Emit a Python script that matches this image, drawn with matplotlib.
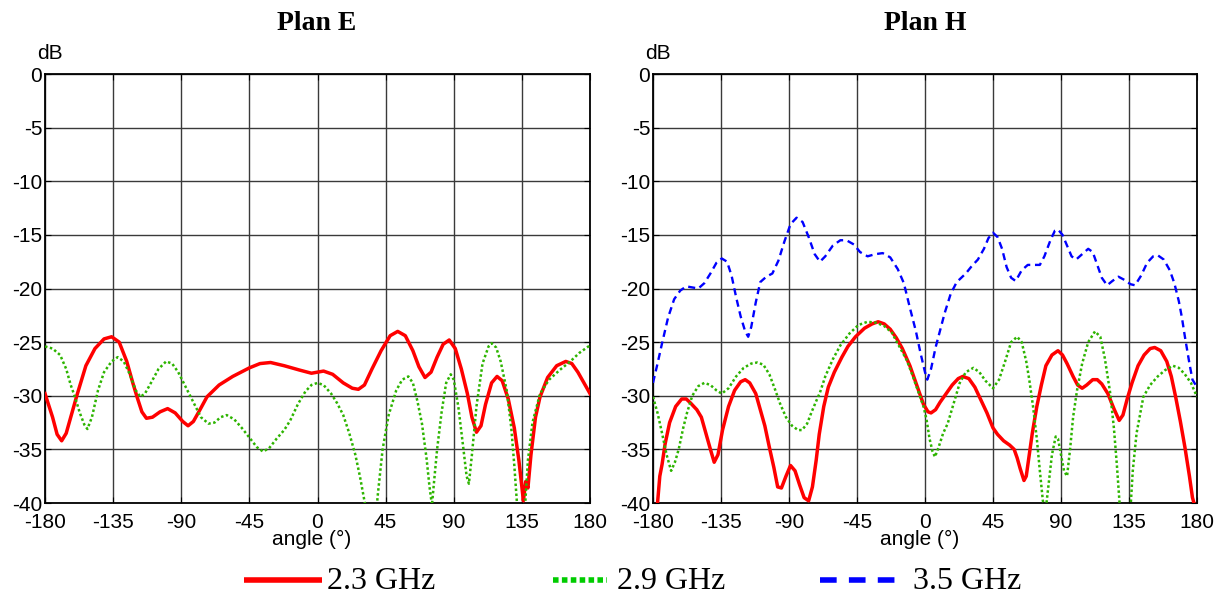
import numpy as np
import matplotlib
matplotlib.use("Agg")
import matplotlib.pyplot as plt
from matplotlib.lines import Line2D

plt.rcParams['font.family'] = ['Liberation Sans', 'DejaVu Sans']
plt.rcParams['axes.unicode_minus'] = False

# ---- Plan E ----
e23_ang = [-180, -175, -172, -169, -166, -162, -159, -153, -147, -141, -136, -131, -126, -122, -119,
           -116, -113, -109, -104, -99, -94, -89, -85.5, -82, -78, -73, -65, -56, -45, -38, -31, -22,
           -12, -4, 4, 10, 17, 23, 27, 31, 36, 42, 48, 53, 58, 63, 67, 71, 75, 79, 83, 87, 91, 95,
           99, 102, 105, 108, 111, 115, 118.6, 122, 126, 130, 133, 135, 136, 137.5, 139, 141, 144,
           147, 152, 158, 164, 168, 172, 176, 180]
e23_db = [-29.8, -32.0, -33.6, -34.2, -33.5, -31.5, -30.0, -27.2, -25.6, -24.7, -24.5, -25.0, -26.8,
          -28.8, -30.2, -31.5, -32.1, -32.0, -31.5, -31.2, -31.6, -32.4, -32.8, -32.4, -31.4, -30.1,
          -29.0, -28.2, -27.4, -27.0, -26.9, -27.2, -27.6, -27.9, -27.7, -28.0, -28.8, -29.3, -29.4,
          -29.0, -27.5, -25.8, -24.4, -24.0, -24.4, -25.8, -27.3, -28.3, -27.8, -26.4, -25.2, -24.8,
          -25.6, -27.5, -29.8, -32.0, -33.4, -32.8, -30.8, -28.8, -28.2, -28.6, -30.3, -33.0, -36.0,
          -38.5, -39.8, -38.0, -38.6, -35.5, -32.0, -30.1, -28.3, -27.2, -26.8, -27.0, -27.8, -28.8,
          -29.8]

e29_ang = [-180, -175, -170, -166, -163, -160, -157, -154, -152, -149, -145, -141, -136, -132, -128,
           -124, -120, -117, -114, -110, -105, -100, -96, -92, -87, -82, -77, -72, -68, -64, -60, -55,
           -50, -45, -40, -36, -32, -27, -22, -18, -13, -8, -4, 0, 4, 9, 13, 17, 21, 25, 28, 31, 32,
           39, 40, 43, 47, 52, 56, 60, 63, 66, 69, 72, 74, 75.6, 77, 79, 82, 85, 88, 90, 93, 96, 98.5,
           100, 102, 105, 109, 113, 115, 118, 121, 125, 128, 130, 132, 137, 139, 142, 147, 153, 160,
           167, 173, 180]
e29_db = [-25.4, -25.6, -26.2, -27.5, -29.0, -30.2, -31.6, -32.7, -33.1, -32.0, -29.5, -27.8, -26.8,
          -26.4, -26.8, -28.0, -29.5, -30.1, -29.8, -28.8, -27.5, -26.8, -27.0, -27.8, -29.2, -30.6,
          -32.0, -32.6, -32.5, -32.0, -31.8, -32.2, -33.0, -33.9, -34.8, -35.2, -34.9, -34.0, -33.2,
          -32.3, -30.8, -29.6, -29.0, -28.8, -29.0, -29.8, -30.7, -31.8, -33.5, -35.5, -37.5, -39.8,
          -40.5, -40.5, -39.0, -35.0, -31.8, -29.5, -28.5, -28.2, -28.8, -30.5, -32.6, -35.8, -38.5,
          -40.2, -38.0, -35.0, -31.5, -28.8, -28.0, -28.5, -31.0, -34.5, -37.5, -38.2, -35.5, -31.0,
          -27.0, -25.4, -25.1, -25.5, -26.8, -29.5, -33.0, -36.5, -40.5, -40.5, -36.0, -32.5, -29.8,
          -28.5, -27.6, -26.8, -26.0, -25.3]

# ---- Plan H ----
h23_ang = [-180, -177, -175.5, -174, -172, -169, -165, -161, -158, -155, -151, -148, -145, -142,
           -139.5, -137, -134, -130, -126, -122, -119, -116, -112, -109, -106, -103, -100, -97.5, -95,
           -92, -89, -86, -83, -80, -77, -74.5, -72, -70, -67, -64, -60, -55, -51, -46, -40, -35, -31,
           -27, -23, -19, -15, -10, -5, -1, 2, 4, 7, 10, 14, 18, 22, 25, 29, 33, 37, 41, 45, 48, 52,
           56, 59, 61, 63, 65.5, 67, 69, 71, 74, 77, 80, 84, 88, 91, 94, 98, 101, 104, 107, 111, 114,
           117, 121, 125, 128.5, 131, 134, 137, 141, 145, 149, 152, 156, 160, 163, 166, 169, 172, 175,
           177, 179]
h23_db = [-41.0, -40.0, -37.5, -36.4, -34.5, -32.5, -31.0, -30.3, -30.3, -30.7, -31.3, -32.0, -33.5,
          -35.0, -36.2, -35.5, -33.2, -31.0, -29.5, -28.7, -28.5, -28.8, -29.8, -31.3, -32.8, -34.8,
          -36.7, -38.5, -38.6, -37.5, -36.5, -37.0, -38.3, -39.5, -39.8, -38.5, -36.0, -33.6, -31.0,
          -29.2, -27.8, -26.4, -25.4, -24.5, -23.7, -23.3, -23.1, -23.3, -23.8, -24.6, -25.6, -27.2,
          -29.2, -30.8, -31.5, -31.6, -31.3, -30.6, -29.8, -29.0, -28.4, -28.2, -28.4, -29.2, -30.4,
          -31.6, -33.0, -33.6, -34.2, -34.6, -35.0, -35.8, -36.8, -37.9, -37.5, -35.5, -33.5, -31.0,
          -29.0, -27.2, -26.2, -25.8, -26.2, -27.0, -28.2, -29.0, -29.3, -29.0, -28.5, -28.5, -28.9,
          -29.8, -31.2, -32.3, -31.8, -30.2, -28.8, -27.2, -26.2, -25.6, -25.5, -25.8, -26.8, -28.2,
          -30.2, -32.4, -34.8, -37.5, -39.5, -40.5]

h29_ang = [-180, -177, -174, -171, -168, -165.5, -163, -160, -157.5, -154, -150, -146, -142, -138,
           -134.5, -130, -125, -120, -115, -111, -107, -103, -99, -96, -92, -88, -84, -81.4, -78, -75,
           -72, -69.5, -66, -61, -56, -50, -44, -38, -32, -27, -22, -17, -12, -8, -4, -1, 1, 3, 5, 6.6,
           9, 12, 15, 19, 23, 27, 32, 36, 40, 45, 49, 53, 57, 61, 64, 67, 69, 71.5, 74, 76, 78, 80, 82,
           84, 86.5, 88, 90, 92, 94, 96, 98, 100.6, 104, 108, 112.5, 116, 119, 122.5, 125, 127, 129,
           136, 137.5, 140, 144.5, 149, 154, 159, 164, 168, 172, 176, 180]
h29_db = [-30.1, -31.6, -33.5, -35.5, -37.0, -36.2, -35.0, -33.0, -31.6, -30.0, -29.1, -28.8, -29.0,
          -29.5, -29.8, -29.3, -28.2, -27.4, -27.0, -26.9, -27.1, -28.0, -29.5, -30.7, -32.0, -32.8,
          -33.2, -33.2, -32.6, -31.5, -30.5, -29.7, -28.2, -26.6, -25.3, -24.2, -23.4, -23.1, -23.2,
          -23.5, -24.1, -25.4, -26.7, -28.2, -29.8, -31.0, -32.2, -34.0, -35.2, -35.7, -34.8, -33.5,
          -32.6, -30.7, -28.8, -27.8, -27.4, -27.8, -28.6, -29.3, -28.5, -26.8, -25.0, -24.5, -25.0,
          -26.8, -28.5, -31.0, -34.0, -37.0, -39.8, -40.5, -38.0, -35.5, -33.8, -34.0, -35.5, -37.0,
          -37.5, -35.0, -32.0, -29.5, -27.0, -25.0, -24.0, -24.5, -26.5, -29.7, -33.0, -36.5, -40.5,
          -40.5, -37.0, -33.5, -30.1, -29.0, -28.2, -27.6, -27.2, -27.4, -28.0, -28.8, -30.1]

h35_ang = [-180, -177, -174, -170, -166, -162, -158, -154, -150, -146, -142, -138, -134.5, -131, -128,
           -125, -122, -119, -117, -115, -112, -109, -105, -101, -97, -93, -89, -85, -81, -77, -73,
           -69.5, -66, -61, -56, -52, -47, -43, -38, -33, -28, -23, -18, -14, -10, -6, -3, 0, 1.5, 4,
           7, 10, 13, 17, 21, 27, 31, 35, 39, 42, 45, 48, 51, 54, 57, 60, 64, 68, 72, 76, 79, 83, 86,
           88, 91, 94, 97, 100, 104, 108, 111, 114, 117, 120.5, 124, 128, 132, 136, 139, 143, 147,
           151, 154, 158, 162, 165, 168, 170, 172, 175, 177, 180]
h35_db = [-28.8, -27.0, -25.1, -22.7, -21.0, -20.2, -19.8, -19.9, -20.0, -19.5, -18.6, -17.6, -17.2,
          -17.5, -18.8, -20.8, -22.6, -24.0, -24.5, -23.6, -21.3, -19.4, -18.9, -18.6, -17.4, -15.6,
          -14.0, -13.4, -13.8, -15.2, -16.8, -17.5, -17.0, -16.0, -15.5, -15.5, -15.9, -16.6, -17.0,
          -16.8, -16.7, -17.1, -18.2, -19.5, -21.8, -24.0, -26.0, -27.8, -28.5, -27.5, -25.5, -23.9,
          -22.3, -20.5, -19.4, -18.6, -17.9, -17.3, -16.3, -15.3, -14.8, -15.2, -16.3, -18.0, -19.0,
          -19.3, -18.3, -17.8, -17.8, -17.8, -17.0, -15.5, -14.6, -14.5, -15.0, -16.0, -17.0, -17.3,
          -16.8, -16.3, -16.6, -17.8, -19.0, -19.7, -19.3, -18.9, -19.2, -19.6, -19.7, -18.8, -17.6,
          -17.0, -16.9, -17.3, -18.3, -19.5, -21.2, -22.7, -24.5, -27.0, -28.5, -29.2]

xticks = [-180, -135, -90, -45, 0, 45, 90, 135, 180]
yticks = [0, -5, -10, -15, -20, -25, -30, -35, -40]

red = '#ff0000'
green = '#2db400'
blue = '#0000ff'

fig = plt.figure(figsize=(12.23, 5.97), dpi=100)
W, H = 1223.0, 597.0
axE = fig.add_axes([45 / W, 1 - 503 / H, 545 / W, 429 / H])
axH = fig.add_axes([653 / W, 1 - 503 / H, 544 / W, 429 / H])

axE.plot(e23_ang, e23_db, color=red, lw=2.5, zorder=3)
axE.plot(e29_ang, e29_db, color=green, lw=1.8, linestyle=(0, (1, 1)), zorder=3)

axH.plot(h35_ang, h35_db, color=blue, lw=1.7, linestyle=(0, (3, 2)), zorder=3)
axH.plot(h23_ang, h23_db, color=red, lw=2.5, zorder=3)
axH.plot(h29_ang, h29_db, color=green, lw=1.8, linestyle=(0, (1, 1)), zorder=3)

for ax in (axE, axH):
    ax.set_xlim(-180, 180)
    ax.set_ylim(-40, 0)
    ax.set_xticks(xticks)
    ax.set_yticks(yticks)
    ax.grid(True, color='#3a3a3a', lw=1.0, zorder=1)
    ax.set_axisbelow(True)
    ax.tick_params(direction='in', length=4, top=True, right=True, labelsize=15,
                   pad=2, colors='black')
    ax.tick_params(axis='x', pad=7)
    for s in ax.spines.values():
        s.set_linewidth(1.3)
        s.set_color('black')
    ax.set_xlabel('angle (°)', fontsize=15)
    ax.xaxis.set_label_coords(0.49, -0.062)
    ax.text(0.009, 1.047, 'dB', transform=ax.transAxes, fontsize=15, ha='center', va='center')

fig.text(317 / W, 1 - 23 / H, 'Plan E', family='Liberation Serif', fontsize=20,
         fontweight='bold', ha='center', va='center')
fig.text(925 / W, 1 - 23 / H, 'Plan H', family='Liberation Serif', fontsize=20,
         fontweight='bold', ha='center', va='center')

# legend at the bottom
ly = 1 - 580 / H
ty = 1 - 589 / H
fig.add_artist(Line2D([244 / W, 322 / W], [ly, ly], transform=fig.transFigure,
                      color=red, lw=4, solid_capstyle='butt'))
fig.text(327 / W, ty, '2.3 GHz', family='Liberation Serif', fontsize=23, va='baseline')
fig.add_artist(Line2D([553 / W, 607 / W], [ly, ly], transform=fig.transFigure,
                      color='#00cc00', lw=4, linestyle=(0, (1, 0.6)), dash_capstyle='butt'))
fig.text(617 / W, ty, '2.9 GHz', family='Liberation Serif', fontsize=23, va='baseline')
fig.add_artist(Line2D([820 / W, 898 / W], [ly, ly], transform=fig.transFigure,
                      color=blue, lw=4, linestyle=(0, (3, 2.2)), dash_capstyle='butt'))
fig.text(913 / W, ty, '3.5 GHz', family='Liberation Serif', fontsize=23, va='baseline')

fig.savefig('out.png', dpi=100)
